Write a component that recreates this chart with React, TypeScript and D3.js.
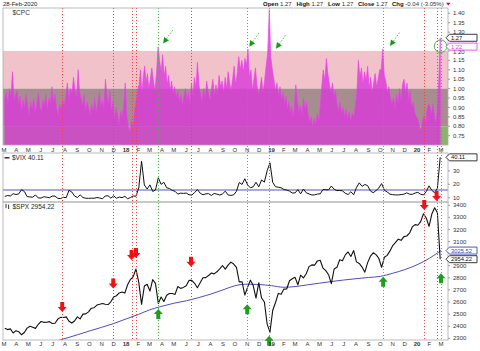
import React from "react";
import * as d3 from "d3";

const W = 480;
const H = 351;
const FONT = "'Liberation Sans', Arial, sans-serif";

// ---------------- data ----------------
const startDate = new Date(2017, 2, 1);
const endDate = new Date(2020, 2, 1);

// $CPC put/call ratio, 8 readings per month, Mar 2017 .. Feb 2020
const cpcRows: number[][] = [
  [0.95, 0.98, 0.92, 1.0, 0.96, 1.09, 0.94, 0.97],
  [0.99, 0.92, 0.96, 0.88, 0.94, 0.9, 0.97, 0.91],
  [0.86, 0.93, 0.89, 0.95, 0.87, 0.92, 0.98, 0.9],
  [0.88, 0.94, 0.91, 0.97, 0.89, 0.95, 0.92, 1.01],
  [0.93, 0.97, 0.9, 0.86, 0.92, 0.89, 0.94, 0.91],
  [0.96, 1.03, 0.94, 1.0, 0.97, 1.06, 0.99, 0.95],
  [1.1, 0.98, 0.95, 0.91, 0.97, 0.88, 0.93, 0.9],
  [0.86, 0.92, 0.88, 0.95, 0.87, 0.93, 0.98, 0.9],
  [0.94, 0.89, 1.05, 0.96, 0.92, 0.99, 0.88, 0.93],
  [0.84, 0.9, 0.86, 0.81, 0.88, 0.85, 0.91, 1.03],
  [0.86, 0.8, 0.77, 0.83, 0.79, 0.88, 0.93, 0.99],
  [1.02, 1.1, 0.98, 1.06, 1.12, 1.03, 1.08, 1.0],
  [1.05, 1.11, 1.04, 0.99, 1.08, 1.22, 1.15, 1.09],
  [1.18, 1.06, 1.12, 1.02, 1.07, 0.99, 1.04, 0.97],
  [1.01, 0.95, 0.99, 0.93, 0.97, 0.91, 0.96, 1.0],
  [0.94, 0.98, 0.92, 1.03, 0.96, 1.06, 1.0, 1.14],
  [1.02, 0.97, 0.93, 1.0, 0.95, 1.04, 0.98, 0.94],
  [0.99, 1.05, 0.96, 1.02, 0.97, 1.07, 1.01, 1.04],
  [0.98, 1.06, 1.0, 1.09, 1.03, 0.99, 1.05, 1.12],
  [1.02, 1.08, 1.17, 1.1, 1.15, 1.09, 1.16, 1.12],
  [1.21, 1.06, 1.1, 0.99, 1.05, 1.11, 1.02, 0.97],
  [1.0, 1.06, 0.98, 1.04, 1.12, 1.19, 1.42, 1.17],
  [1.1, 1.05, 0.99, 1.03, 0.96, 1.01, 0.94, 0.98],
  [0.92, 0.96, 0.89, 0.93, 0.87, 0.91, 0.85, 0.9],
  [1.02, 0.93, 0.88, 0.91, 0.86, 0.95, 0.89, 0.93],
  [0.86, 0.82, 0.85, 0.8, 0.84, 0.81, 0.87, 0.83],
  [0.9, 1.01, 1.1, 1.04, 1.16, 1.08, 1.02, 0.98],
  [1.03, 0.95, 0.99, 0.92, 0.88, 0.93, 0.87, 0.9],
  [0.85, 0.89, 0.84, 0.88, 0.83, 0.87, 0.85, 0.91],
  [0.98, 1.15, 1.06, 1.11, 1.02, 1.09, 1.04, 1.12],
  [1.0, 1.06, 0.98, 1.03, 1.08, 1.01, 1.05, 1.1],
  [1.1, 1.21, 1.07, 1.04, 0.98, 1.01, 0.95, 0.92],
  [0.95, 0.9, 0.97, 0.92, 1.0, 0.94, 1.02, 1.05],
  [0.98, 1.03, 0.94, 0.99, 0.9, 0.93, 0.87, 0.85],
  [0.84, 0.8, 0.78, 0.83, 0.86, 0.82, 0.89, 0.92],
  [0.9, 0.87, 0.92, 0.85, 0.82, 0.88, 1.05, 1.27],
];

// weekly (Friday) S&P 500, Mar 3 2017 .. Feb 28 2020
const spxWeekly: number[] = [
  2383, 2372, 2378, 2344, 2363, 2355, 2329, 2348, 2384, 2399, 2391, 2382, 2416,
  2439, 2432, 2433, 2438, 2423, 2425, 2459, 2473, 2472, 2477, 2441, 2426, 2443,
  2477, 2461, 2500, 2502, 2519, 2549, 2553, 2575, 2581, 2588, 2582, 2579, 2602,
  2642, 2652, 2675, 2683, 2674,
  2743, 2786, 2810, 2873, 2762, 2581, 2732, 2747, 2691, 2786, 2752, 2588, 2641,
  2604, 2656, 2670, 2670, 2663, 2728, 2713, 2721, 2735, 2779, 2780, 2755, 2718,
  2760, 2801, 2802, 2819, 2840, 2833, 2850, 2875, 2902, 2872, 2905, 2930, 2914,
  2886, 2767, 2768, 2658, 2723, 2781, 2736, 2633, 2760, 2633, 2600, 2417, 2351,
  2532, 2596, 2671, 2665, 2707, 2708, 2776, 2793, 2804, 2743, 2822, 2800, 2834,
  2893, 2907, 2905, 2940, 2946, 2881, 2860, 2826, 2752, 2873, 2887, 2950, 2942,
  2990, 3014, 2977, 3026, 2932, 2919, 2889, 2847, 2926, 2979, 3007, 2992, 2962,
  2887, 2970, 2986, 3023, 3067, 3093, 3120, 3110, 3141, 3146, 3169, 3221, 3240,
  3235, 3265, 3330, 3295, 3226, 3328, 3380, 3338, 2954.22,
];

// weekly (Friday) $VIX
const vixWeekly: number[] = [
  10.96, 11.66, 11.28, 12.96, 12.37, 12.87, 15.96, 14.63, 10.82, 10.57, 10.4, 12.04, 9.81,
  9.75, 10.7, 10.38, 10.02, 11.18, 11.19, 9.51, 9.36, 10.29, 10.03, 15.51, 14.26, 11.28,
  10.13, 12.12, 10.17, 9.59, 9.51, 9.65, 9.61, 10.07, 9.8, 9.14, 11.29, 11.43, 9.67,
  11.43, 9.58, 10.49, 10.03, 11.04,
  9.22, 10.16, 11.27, 11.08, 17.31, 37.32, 19.46, 16.49, 19.59, 14.64, 15.8, 24.87, 19.97,
  21.49, 17.41, 16.88, 15.41, 14.77, 12.65, 13.42, 13.22, 13.46, 12.18, 11.98, 13.77, 16.09,
  13.37, 12.18, 12.86, 13.03, 11.64, 13.16, 12.64, 11.99, 12.86, 14.88, 12.07, 11.68, 12.12,
  14.82, 21.31, 19.89, 24.16, 19.51, 17.36, 18.14, 21.52, 18.07, 23.23, 21.63, 30.11, 36.07,
  21.38, 18.19, 17.8, 17.42, 16.14, 15.72, 14.91, 13.51, 13.57, 16.05, 12.88, 16.48, 13.71,
  12.82, 12.01, 12.09, 12.73, 12.87, 16.04, 15.96, 15.85, 18.71, 16.3, 15.28, 15.4, 15.08,
  13.28, 12.39, 14.45, 12.16, 17.61, 21.09, 18.47, 19.87, 18.98, 15.0, 13.74, 15.32, 17.22,
  20.56, 15.58, 14.25, 12.65, 12.3, 12.07, 12.05, 12.34, 12.62, 13.62, 12.63, 12.51, 13.43,
  14.02, 12.56, 12.1, 14.56, 18.84, 15.47, 13.68, 17.08, 40.11,
];

// S&P 500 200-day moving average at month starts, Mar 2017 .. Mar 2020
const spxMA: number[] = [
  2140, 2170, 2200, 2235, 2268, 2298, 2329, 2360, 2391, 2422, 2460, 2497, 2535,
  2565, 2590, 2610, 2635, 2665, 2700, 2735, 2748, 2745, 2735, 2722, 2728, 2742,
  2756, 2770, 2782, 2793, 2803, 2812, 2838, 2868, 2908, 2962, 3025.52,
];

const vixRefLevel = 15.75;

const redSignals = [
  { date: "2017-07-25", level: 2559 },
  { date: "2017-11-30", level: 2753 },
  { date: "2018-01-15", level: 2989 },
  { date: "2018-01-26", level: 3005 },
  { date: "2018-06-13", level: 2934 },
  { date: "2020-01-19", level: 3402 },
  { date: "2020-02-19", level: 3477 },
];
const greenSignals = [
  { date: "2018-03-23", level: 2501 },
  { date: "2018-11-01", level: 2540 },
  { date: "2018-12-26", level: 2280 },
  { date: "2019-10-08", level: 2768 },
  { date: "2020-03-01", level: 2796 },
];
const cpcArrowTips = [
  { date: "2018-04-04", value: 1.239 },
  { date: "2018-11-06", value: 1.223 },
  { date: "2019-01-12", value: 1.212 },
  { date: "2019-10-25", value: 1.226 },
];
const cpcCircle = { date: "2020-02-29", value: 1.225 };

const cpcTicks = [0.75, 0.8, 0.85, 0.9, 0.95, 1.0, 1.05, 1.1, 1.15, 1.2, 1.3, 1.35, 1.4];
const vixTicks = [10, 20, 30];
const spxTicks = [2300, 2400, 2500, 2600, 2700, 2800, 2900, 3100, 3200, 3300, 3400];
const monthLetters = ["J", "F", "M", "A", "M", "J", "J", "A", "S", "O", "N", "D"];

const cpcClose = 1.27;
const cpcMarker = 1.22;
const vixClose = 40.11;

// ---------------- layout ----------------
const L = 3;
const R = 448;
const cpcTop = 8, cpcBot = 145;
const vixTop = 153, vixBot = 202;
const spxTop = 202, spxBot = 340;

const parse = d3.timeParse("%Y-%m-%d");

export default function App() {
  const x = d3.scaleTime().domain([startDate, endDate]).range([4, 441]);
  const yC = d3.scaleLinear().domain([0.75, 1.4]).range([135.7, 13.3]);
  const yV = d3.scaleLinear().domain([10, 40]).range([197.7, 157.5]);
  const yS = d3.scaleLinear().domain([2300, 3400]).range([338.3, 205.3]);

  const months = d3.timeMonth.range(startDate, new Date(2020, 2, 2));
  const weeks = d3.timeFriday.range(new Date(2017, 2, 3), new Date(2020, 1, 29));

  const cpcPts = cpcRows.flatMap((row, m) => {
    const ms = months[m].getTime();
    const me = months[m + 1].getTime();
    return row.map((v, j) => ({ date: new Date(ms + ((me - ms) * (j + 0.5)) / row.length), v }));
  });
  const spxPts = spxWeekly.map((v, i) => ({ date: weeks[Math.min(i, weeks.length - 1)], v }));
  const vixPts = vixWeekly.map((v, i) => ({ date: weeks[Math.min(i, weeks.length - 1)], v }));
  const maPts = spxMA.map((v, i) => ({ date: months[i], v }));

  const cpcArea = d3
    .area<{ date: Date; v: number }>()
    .x((d) => x(d.date))
    .y0(cpcBot)
    .y1((d) => yC(d.v))(cpcPts) as string;
  const vixLine = d3
    .line<{ date: Date; v: number }>()
    .x((d) => x(d.date))
    .y((d) => yV(d.v))(vixPts) as string;
  const spxLine = d3
    .line<{ date: Date; v: number }>()
    .x((d) => x(d.date))
    .y((d) => yS(d.v))(spxPts) as string;
  const maLine = d3
    .line<{ date: Date; v: number }>()
    .curve(d3.curveMonotoneX)
    .x((d) => x(d.date))
    .y((d) => yS(d.v))(maPts) as string;

  const downArrow = (cx: number, cy: number) =>
    `M${cx - 2},${cy - 5}H${cx + 2}V${cy}H${cx + 4.5}L${cx},${cy + 5}L${cx - 4.5},${cy}H${cx - 2}Z`;
  const upArrow = (cx: number, cy: number) =>
    `M${cx - 2},${cy + 5}H${cx + 2}V${cy}H${cx + 4.5}L${cx},${cy - 5}L${cx - 4.5},${cy}H${cx - 2}Z`;

  const valueBox = (y: number, text: string, color: string, textColor: string, key: string) => (
    <g key={key}>
      <path
        d={`M446,${y}L449.5,${y - 3.5}H477V${y + 3.5}H449.5Z`}
        fill="#fff"
        stroke={color}
        strokeWidth={0.9}
      />
      <text x={451} y={y + 2.1} fontSize={5.8} fill={textColor} fontFamily={FONT}>
        {text}
      </text>
    </g>
  );

  const monthRow = (baseline: number, key: string) =>
    months.map((d, i) => {
      const isYear = d.getMonth() === 0;
      return (
        <text
          key={key + i}
          x={x(d)}
          y={baseline}
          fontSize={6}
          textAnchor="middle"
          fontWeight={isYear ? "bold" : "normal"}
          fill="#333"
          fontFamily={FONT}
        >
          {isYear ? String(d.getFullYear() % 100) : monthLetters[d.getMonth()]}
        </text>
      );
    });

  const headerGroups = [
    { x: 263, label: "Open", value: "1.27" },
    { x: 296.4, label: "High", value: "1.27" },
    { x: 328, label: "Low", value: "1.27" },
    { x: 358, label: "Close", value: "1.27" },
    { x: 392, label: "Chg", value: "-0.04 (-3.05%)" },
  ];

  return (
    <svg
      width={W}
      height={H}
      style={{ position: "absolute", left: 0, top: 0, background: "#fff" }}
      fontFamily={FONT}
    >
      <defs>
        <clipPath id="clipC">
          <rect x={L} y={cpcTop} width={R - L} height={cpcBot - cpcTop} />
        </clipPath>
        <clipPath id="clipV">
          <rect x={L} y={vixTop} width={R - L} height={vixBot - vixTop} />
        </clipPath>
        <clipPath id="clipS">
          <rect x={L} y={spxTop} width={R - L} height={spxBot - spxTop} />
        </clipPath>
      </defs>
      <rect x={0} y={0} width={W} height={H} fill="#fff" />

      {/* CPC panel bands */}
      <g clipPath="url(#clipC)">
        <rect x={L} y={yC(1.2)} width={R - L} height={yC(1.0) - yC(1.2)} fill="#f1c2c9" />
        <rect x={L} y={yC(1.0)} width={R - L} height={yC(0.8) - yC(1.0)} fill="#a88d90" />
        <rect x={L} y={yC(0.8)} width={R - L} height={cpcBot - yC(0.8)} fill="#8ab46c" />
        <path d={cpcArea} fill="#d838d8" fillOpacity={0.8} stroke="#ee3cee" strokeWidth={0.6} />
      </g>

      {/* VIX panel */}
      <g clipPath="url(#clipV)">
        <line x1={L} x2={R} y1={yV(vixRefLevel)} y2={yV(vixRefLevel)} stroke="#4a56c4" strokeWidth={1} />
        <path d={vixLine} fill="none" stroke="#111" strokeWidth={1} />
      </g>

      {/* SPX panel */}
      <g clipPath="url(#clipS)">
        <path d={maLine} fill="none" stroke="#4a4ec0" strokeWidth={1} />
        <path d={spxLine} fill="none" stroke="#111" strokeWidth={1.1} strokeLinejoin="round" />
      </g>

      {/* vertical signal lines */}
      {redSignals.map((s, i) => {
        const xx = Math.round(x(parse(s.date) as Date)) + 0.5;
        return (
          <line key={"rl" + i} x1={xx} x2={xx} y1={cpcTop} y2={spxBot} stroke="#ff3b3b" strokeWidth={1} strokeDasharray="1 2" />
        );
      })}
      {greenSignals.map((s, i) => {
        const xx = Math.round(x(parse(s.date) as Date)) + 0.5;
        return (
          <line key={"gl" + i} x1={xx} x2={xx} y1={cpcTop} y2={spxBot} stroke="#3cbf3c" strokeWidth={1} strokeDasharray="1 2" />
        );
      })}

      {/* panel frames */}
      <rect x={L} y={cpcTop} width={R - L} height={cpcBot - cpcTop} fill="none" stroke="#aaa" strokeWidth={0.8} />
      <rect x={L} y={vixTop} width={R - L} height={vixBot - vixTop} fill="none" stroke="#aaa" strokeWidth={0.8} />
      <rect x={L} y={spxTop} width={R - L} height={spxBot - spxTop} fill="none" stroke="#aaa" strokeWidth={0.8} />

      {/* signal arrows */}
      {redSignals.map((s, i) => (
        <path key={"ra" + i} d={downArrow(x(parse(s.date) as Date), yS(s.level))} fill="#f21010" />
      ))}
      {greenSignals.map((s, i) => (
        <path key={"ga" + i} d={upArrow(x(parse(s.date) as Date), yS(s.level))} fill="#1e9e1e" />
      ))}

      {/* CPC annotation arrows */}
      {cpcArrowTips.map((a, i) => {
        const tx = x(parse(a.date) as Date);
        const ty = yC(a.value);
        return (
          <g key={"ca" + i}>
            <line x1={tx + 3.5} y1={ty - 4.9} x2={tx + 10} y2={ty - 14} stroke="#4cc04c" strokeWidth={1} strokeDasharray="1.5 1.5" />
            <path d={`M${tx},${ty}L${tx + 5.9},${ty - 3.2}L${tx + 1},${ty - 6.6}Z`} fill="#169a16" />
          </g>
        );
      })}
      <circle cx={x(parse(cpcCircle.date) as Date)} cy={yC(cpcCircle.value)} r={6.3} fill="none" stroke="#55b055" strokeWidth={1} />

      {/* right axes */}
      {cpcTicks.map((t, i) => (
        <g key={"ct" + i}>
          <line x1={R} x2={R + 2} y1={yC(t)} y2={yC(t)} stroke="#888" strokeWidth={0.8} />
          <text x={453} y={yC(t) + (t === 1.2 ? 3.2 : 2.1)} fontSize={6} fill="#333">
            {t.toFixed(2)}
          </text>
        </g>
      ))}
      {vixTicks.map((t, i) => (
        <g key={"vt" + i}>
          <line x1={R} x2={R + 2} y1={yV(t)} y2={yV(t)} stroke="#888" strokeWidth={0.8} />
          <text x={453} y={yV(t) + 2.1} fontSize={6} fill="#333">
            {t}
          </text>
        </g>
      ))}
      {spxTicks.map((t, i) => (
        <g key={"st" + i}>
          <line x1={R} x2={R + 2} y1={yS(t)} y2={yS(t)} stroke="#888" strokeWidth={0.8} />
          <text x={453} y={yS(t) + 2.1} fontSize={6} fill="#333">
            {t}
          </text>
        </g>
      ))}

      {/* value boxes */}
      {valueBox(yC(cpcClose), cpcClose.toFixed(2), "#222", "#111", "b1")}
      {valueBox(yC(cpcMarker) - 0.6, cpcMarker.toFixed(2), "#ee44ee", "#ee44ee", "b2")}
      {valueBox(yV(vixClose), vixClose.toFixed(2), "#222", "#111", "b3")}
      {valueBox(yS(spxMA[spxMA.length - 1]), spxMA[spxMA.length - 1].toFixed(2), "#3a46c0", "#3a46c0", "b4")}
      {valueBox(yS(spxWeekly[spxWeekly.length - 1]), spxWeekly[spxWeekly.length - 1].toFixed(2), "#222", "#111", "b5")}

      {/* month labels */}
      {monthRow(151.6, "m1")}
      {monthRow(346.3, "m2")}

      {/* panel titles */}
      <text x={12.5} y={15} fontSize={6.5} fill="#333">
        $CPC
      </text>
      <line x1={4.5} x2={9.5} y1={157.8} y2={157.8} stroke="#111" strokeWidth={1.3} />
      <text x={12} y={160.1} fontSize={6.5} fill="#222">
        $VIX {vixClose.toFixed(2)}
      </text>
      <line x1={6} x2={6} y1={203.8} y2={208.2} stroke="#222" strokeWidth={0.9} />
      <line x1={8.6} x2={8.6} y1={204.6} y2={209} stroke="#222" strokeWidth={0.9} />
      <text x={12.5} y={208.5} fontSize={6.5} fill="#222">
        $SPX {spxWeekly[spxWeekly.length - 1].toFixed(2)}
      </text>

      {/* header */}
      <text x={3} y={6.3} fontSize={6} fill="#222">
        28-Feb-2020
      </text>
      {headerGroups.map((g, i) => (
        <text key={"h" + i} x={g.x} y={6.3} fontSize={6} fill="#333">
          <tspan fontWeight="bold" fill="#111">
            {g.label}
          </tspan>
          <tspan> {g.value}</tspan>
        </text>
      ))}
      <path d="M446,2.8H450.6L448.3,5.6Z" fill="#c0103a" />
    </svg>
  );
}
